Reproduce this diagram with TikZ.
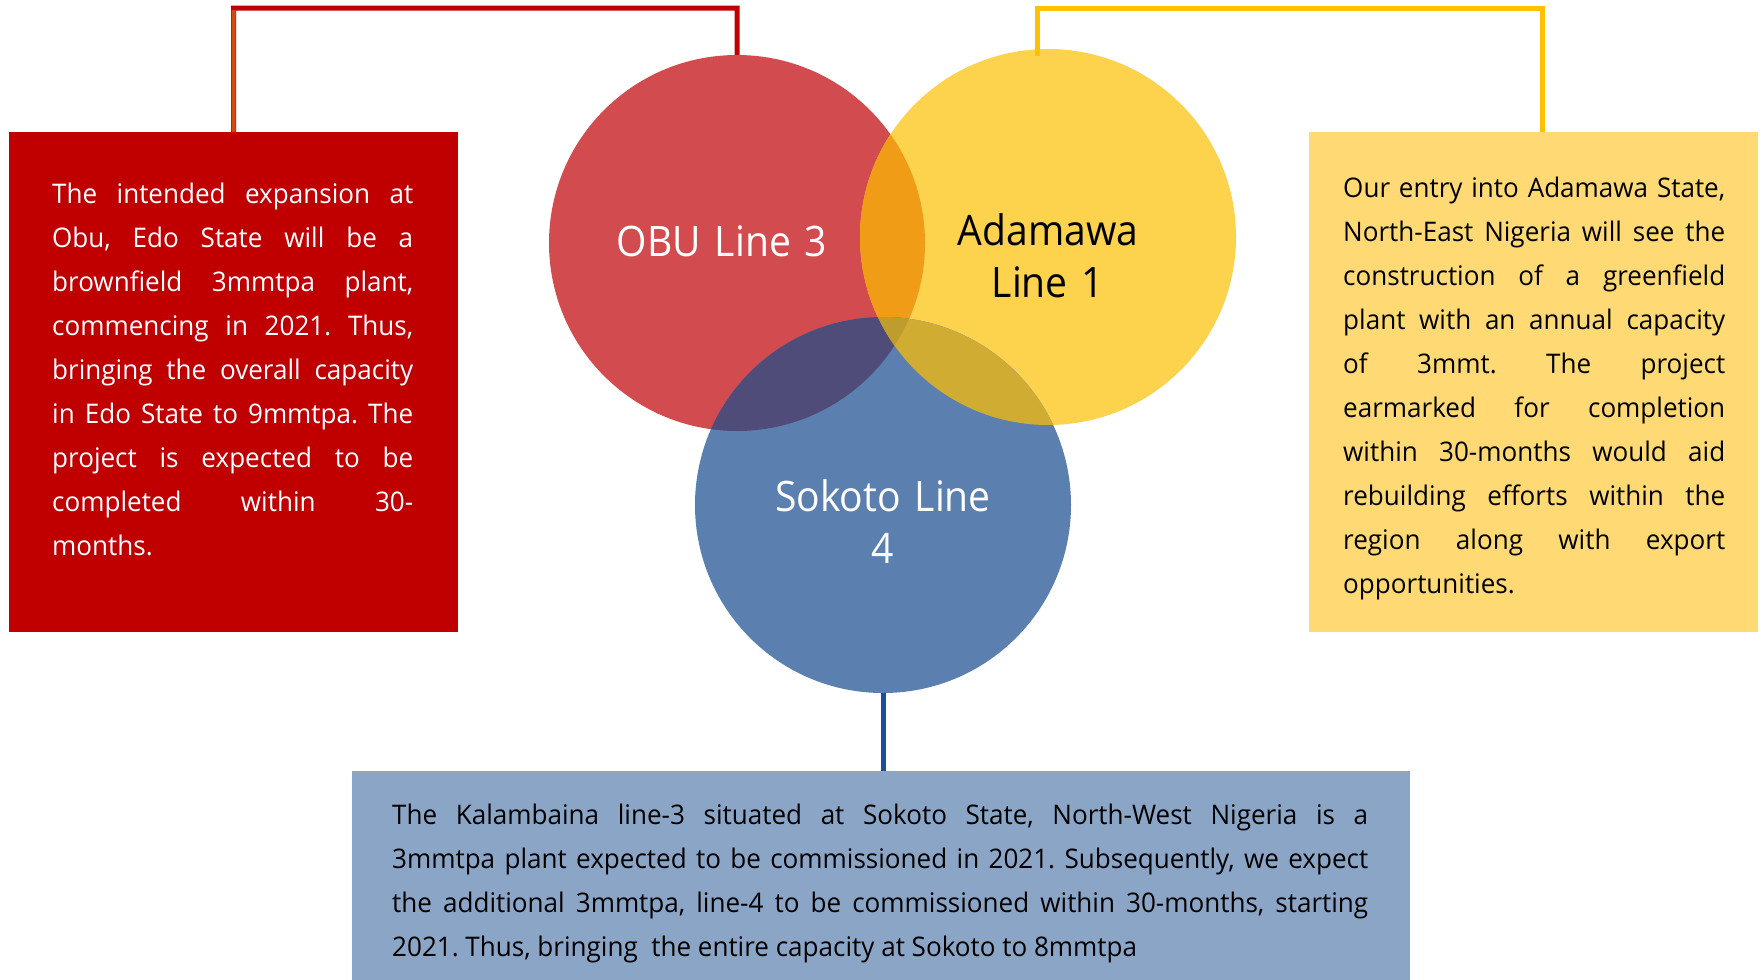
\documentclass[tikz,border=0pt]{standalone}
\usepackage{fontspec}
\setmainfont[FakeStretch=0.93]{Open Sans}
\newfontfamily\bodyfont[FakeStretch=0.965]{Open Sans}
\tolerance=10000 \hbadness=10000 \hyphenpenalty=10000 \exhyphenpenalty=10000
\frenchspacing
\definecolor{boxred}{HTML}{C00000}
\definecolor{obuc}{HTML}{D24B4E}
\definecolor{adac}{HTML}{FDD24C}
\definecolor{sokc}{HTML}{5B7FAF}
\definecolor{ryc}{HTML}{F09C17}
\definecolor{rbc}{HTML}{504C7A}
\definecolor{ybc}{HTML}{D0AC33}
\definecolor{rybc}{HTML}{BE9C2E}
\definecolor{yelbox}{HTML}{FFDA74}
\definecolor{blubox}{HTML}{8BA5C7}
\definecolor{redline}{HTML}{C00000}
\definecolor{orgline}{HTML}{D44A14}
\definecolor{yelline}{HTML}{FFC000}
\definecolor{bluline}{HTML}{1F4E99}
\tikzset{
  panel/.style={rectangle, inner sep=0pt, anchor=north west},
  venn/.style={circle, inner sep=0pt, minimum size=376pt},
  body/.style={inner sep=0pt, anchor=base west, align=justify,
    font=\bodyfont\fontsize{27}{44}\selectfont},
  lbl/.style={inner sep=0pt, anchor=base, text width=320pt, align=center,
    font=\fontsize{42}{52}\selectfont},
  conn/.style={line width=5pt},
}
\begin{document}
\begin{tikzpicture}[x=1pt,y=-1pt]
\useasboundingbox (0,0) rectangle (1762,980);
% boxes
\node[panel, fill=boxred, minimum width=449pt, minimum height=500pt] (redbox) at (9,132) {};
\node[panel, fill=yelbox, minimum width=449pt, minimum height=500pt] (yelbox) at (1309,132) {};
\node[panel, fill=blubox, minimum width=1058pt, minimum height=209pt] (blubox) at (352,771) {};
% circles
\node[venn, fill=obuc] (obu) at (737,243) {};
\node[venn, fill=adac] (ada) at (1048,237) {};
\node[venn, fill=sokc] (sok) at (883,505) {};
\begin{scope}
  \clip (obu.center) circle[radius=188pt];
  \fill[ryc] (ada.center) circle[radius=188pt];
  \fill[rbc] (sok.center) circle[radius=188pt];
\end{scope}
\begin{scope}
  \clip (ada.center) circle[radius=188pt];
  \fill[ybc] (sok.center) circle[radius=188pt];
\end{scope}
\begin{scope}
  \clip (obu.center) circle[radius=188pt];
  \clip (ada.center) circle[radius=188pt];
  \fill[rybc] (sok.center) circle[radius=188pt];
\end{scope}
% connectors
\coordinate (rc1) at (233.5,8);
\coordinate (rc2) at (737,8);
\coordinate (yc0) at (1037,56);
\coordinate (yc1) at (1037,8);
\coordinate (yc2) at (1542,8);
\draw[conn, redline] (redbox.north) -- (rc1) -- (rc2) -- (obu.north);
\draw[line width=4pt, orgline] (redbox.north) -- ([yshift=-2pt]rc1);
\draw[conn, yelline] (yc0) -- (yc1) -- (yc2) -- (yc2 |- yelbox.north);
\draw[conn, bluline] (sok.south) -- (sok.south |- blubox.north);
% circle labels
\node[lbl, text=white] (obul) at (722,256) {OBU Line 3};
\node[lbl, text=black] (adal) at (1048,245) {Adamawa\\Line 1};
\node[lbl, text=white] (sokl) at (883,511) {Sokoto Line\\4};
% texts
\node[body, text=white, text width=361pt] (redtxt) at (52,203) {The intended expansion at\linebreak
Obu, Edo State will be a\linebreak
brownfield 3mmtpa plant,\linebreak
commencing in 2021. Thus,\linebreak
bringing the overall capacity\linebreak
in Edo State to 9mmtpa. The\linebreak
project is expected to be\linebreak
completed within 30-\linebreak
months.};
\node[body, text=black, text width=382pt] (yeltxt) at (1343,197) {Our entry into Adamawa State,\linebreak
North-East Nigeria will see the\linebreak
construction of a greenfield\linebreak
plant with an annual capacity\linebreak
of 3mmt. The project\linebreak
earmarked for completion\linebreak
within 30-months would aid\linebreak
rebuilding efforts within the\linebreak
region along with export\linebreak
opportunities.};
\node[body, text=black, text width=976pt] (blutxt) at (392,824) {The Kalambaina line-3 situated at Sokoto State, North-West Nigeria is a\linebreak
3mmtpa plant expected to be commissioned in 2021. Subsequently, we expect\linebreak
the additional 3mmtpa, line-4 to be commissioned within 30-months, starting\linebreak
2021. Thus, bringing\ \ the entire capacity at Sokoto to 8mmtpa};
\end{tikzpicture}
\end{document}
